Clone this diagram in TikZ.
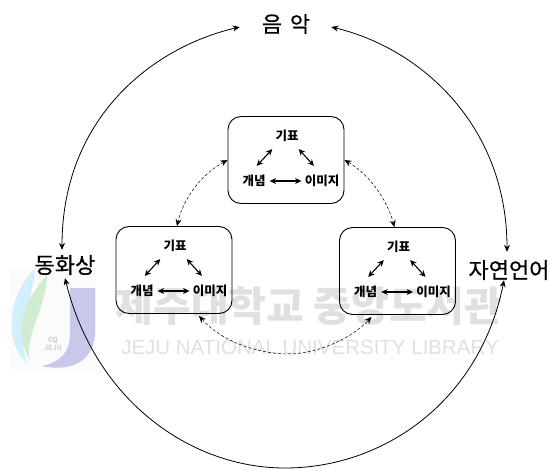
\documentclass[tikz,border=0pt]{standalone}
\usepackage{fontspec}
\usetikzlibrary{arrows.meta}
\setmainfont{Noto Sans CJK KR}
\newfontfamily\biglabel[FakeBold=0.6]{Noto Sans CJK KR}
\newfontfamily\latinwm{Liberation Sans}
\definecolor{wm}{gray}{0.88}
\tikzset{
  bigl/.style={font=\biglabel\fontsize{22}{22}\selectfont,inner sep=8pt},
  small/.style={font=\fontsize{12.5}{13}\selectfont\bfseries,inner sep=0pt},
  cbox/.style={draw,rounded corners=13pt,minimum width=116pt,minimum height=87pt,line width=0.9pt},
  solidc/.style={{Stealth[length=7pt,width=6pt]}-{Stealth[length=7pt,width=6pt]},line width=0.8pt},
  dashc/.style={{Stealth[length=7pt,width=6pt]}-{Stealth[length=7pt,width=6pt]},densely dashed,line width=0.5pt},
  innerc/.style={{Stealth[length=6.5pt,width=6pt]}-{Stealth[length=6.5pt,width=6pt]},line width=1.1pt},
}
\begin{document}
\begin{tikzpicture}[x=1pt,y=-1pt]
\useasboundingbox (0,0) rectangle (549,471);
% watermark
\fill[gray!3] (10,268) rectangle (96,370);
\fill[blue!45!gray!30] (70,288) -- (95,288) -- (95,335) .. controls (93,362) and (70,372) .. (42,366) .. controls (62,362) and (70,350) .. (70,335) -- cycle;
\fill[cyan!18] (35,268) .. controls (5,300) and (5,345) .. (28,364) .. controls (14,335) and (32,305) .. (35,268) -- cycle;
\fill[green!40!gray!25] (47,275) .. controls (20,305) and (14,335) .. (30,360) .. controls (24,335) and (46,310) .. (47,275) -- cycle;
\node[text=gray!35,font=\fontsize{7}{8.5}\selectfont\bfseries,align=center,inner sep=0pt] (wmlogo) at (53,344) {CQ\\JEJU};
\node[text=wm,font=\fontsize{41}{42}\selectfont\bfseries,inner sep=0pt] (wmkr) at (309,306) {제주대학교 중앙도서관};
\node[text=wm,font=\latinwm\fontsize{20.5}{21}\selectfont,inner sep=0pt] (wmen) at (310,347) {JEJU NATIONAL UNIVERSITY  LIBRARY};
% big labels
\node[bigl] (music) at (286,24) {음\hspace{0.35em}악};
\node[bigl] (video) at (65,265) {동화상};
\node[bigl] (lang) at (509,270) {자연언어};
% boxes
\foreach \b/\x/\y in {t/286/160,l/174/270,r/397.5/271}{
  \node[cbox] (\b) at (\x,\y) {};
  \node[small] (\b s) at (\x+1,\y-24) {기표};
  \node[small] (\b c) at (\x-32,\y+21) {개념};
  \node[small] (\b i) at (\x+36,\y+21) {이미지};
  \draw[innerc] ([shift={(-3,7)}]\b s.south west) -- ([shift={(-9,-9)}]\b c.north east);
  \draw[innerc] ([shift={(0,7)}]\b s.south east) -- ([shift={(-8,-9)}]\b i.north);
  \draw[innerc] ([xshift=4pt]\b c.east) -- ([xshift=-3pt]\b i.west);
}
% outer arcs
\draw[solidc] ([shift={(-14,3)}]music.west) .. controls (150,48) and (62,120) .. ([shift={(-3,3)}]video.north);
\draw[solidc] ([shift={(13,3)}]music.east) .. controls (420,48) and (507,125) .. ([shift={(-2,0)}]lang.north);
\draw[solidc] ([shift={(0,-5)}]video.south) .. controls (95,400) and (190,468) .. (285,468) .. controls (385,468) and (480,400) .. ([shift={(-5,-8)}]lang.south);
% dashed arcs
\draw[dashc] (t.west) .. controls (200,175) and (183,200) .. ([shift={(3,0)}]l.north);
\draw[dashc] (t.east) .. controls (370,175) and (387,200) .. ([shift={(-3,0)}]r.north);
\draw[dashc] ([shift={(25,2)}]l.south) .. controls (225,345) and (265,354) .. (288,354) .. controls (315,354) and (350,340) .. ([shift={(-26,2)}]r.south);
\end{tikzpicture}
\end{document}
